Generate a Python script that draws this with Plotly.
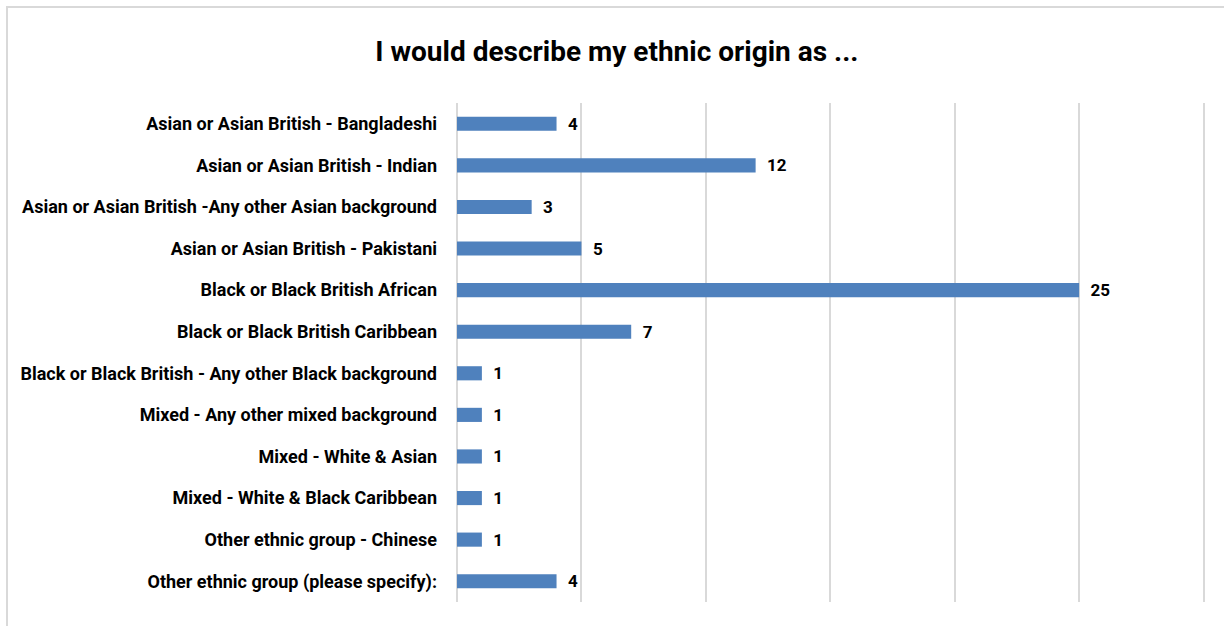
import plotly.graph_objects as go

categories = [
    "Asian or Asian British - Bangladeshi",
    "Asian or Asian British - Indian",
    "Asian or Asian British -Any other Asian background",
    "Asian or Asian British - Pakistani",
    "Black or Black British African",
    "Black or Black British Caribbean",
    "Black or Black British - Any other Black background",
    "Mixed - Any other mixed background",
    "Mixed - White & Asian",
    "Mixed - White & Black Caribbean",
    "Other ethnic group - Chinese",
    "Other ethnic group (please specify):",
]
counts = [4, 12, 3, 5, 25, 7, 1, 1, 1, 1, 1, 4]

FONT = "Liberation Sans Narrow, Roboto, Arial, sans-serif"

# plot area: value 0 sits at x=457 px, 24.9 px per unit
X_MAX = 30.5
PLOT_W = 747 * X_MAX / 30

fig = go.Figure(
    go.Bar(
        x=counts,
        y=categories,
        orientation="h",
        marker=dict(color="#4f81bd", line=dict(width=0)),
        width=0.34,
        text=[str(v) for v in counts],
        texttemplate="  %{text}",
        textposition="outside",
        constraintext="none",
        cliponaxis=False,
        textfont=dict(family=FONT, size=17, color="#000000", weight="bold"),
    )
)

fig.update_layout(
    width=1224,
    height=626,
    margin=dict(l=457, r=1224 - 457 - PLOT_W, t=103, b=24),
    paper_bgcolor="#ffffff",
    plot_bgcolor="#ffffff",
    showlegend=False,
    title=dict(
        text="I would describe my ethnic origin as ...",
        x=0.504,
        xanchor="center",
        y=0.918,
        yanchor="middle",
        font=dict(family=FONT, size=28, color="#000000", weight="bold"),
    ),
    xaxis=dict(
        range=[0, X_MAX],
        dtick=5,
        tick0=0,
        showticklabels=False,
        showgrid=True,
        gridcolor="#d9d9d9",
        gridwidth=2,
        zeroline=True,
        zerolinecolor="#d9d9d9",
        zerolinewidth=2,
        showline=False,
        fixedrange=True,
    ),
    yaxis=dict(
        autorange="reversed",
        showgrid=False,
        zeroline=False,
        showline=False,
        ticks="",
        ticklabelstandoff=19,
        tickfont=dict(family=FONT, size=18, color="#000000", weight="bold"),
        fixedrange=True,
    ),
    shapes=[
        dict(
            type="rect",
            xref="paper",
            yref="paper",
            xsizemode="pixel",
            ysizemode="pixel",
            xanchor=0,
            yanchor=1,
            x0=-450,
            x1=900,
            y0=96,
            y1=-700,
            line=dict(color="#d9d9d9", width=2),
            fillcolor="rgba(0,0,0,0)",
            layer="below",
        )
    ],
)

fig.write_html("out.html")
